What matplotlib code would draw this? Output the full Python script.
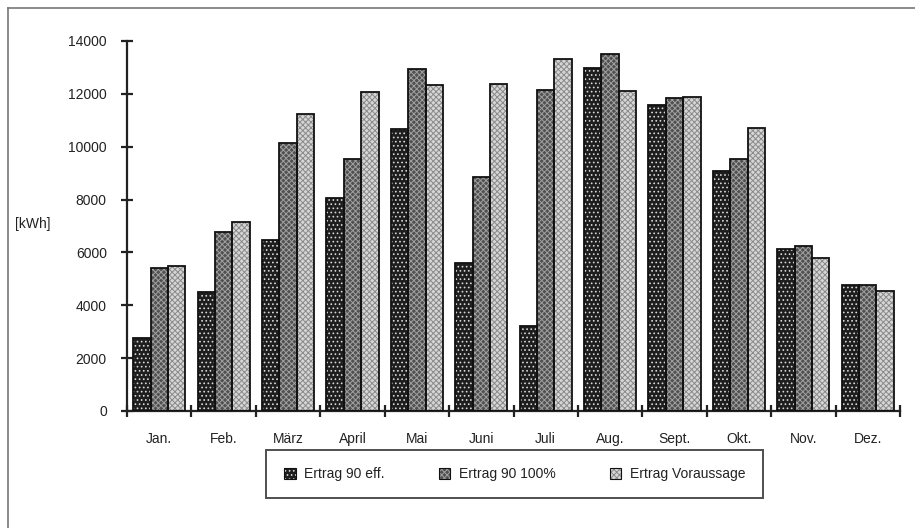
import numpy as np
import matplotlib
matplotlib.use("Agg")
import matplotlib.pyplot as plt
from matplotlib.patches import Patch
from matplotlib.legend_handler import HandlerTuple

# Monatswerte [kWh]
monate = ["Jan.", "Feb.", "März", "April", "Mai", "Juni", "Juli", "Aug.", "Sept.", "Okt.", "Nov.", "Dez."]
ertrag_eff = [2750, 4490, 6470, 8050, 10660, 5590, 3220, 12970, 11580, 9090, 6120, 4770]
ertrag_100 = [5420, 6760, 10130, 9530, 12930, 8870, 12150, 13510, 11840, 9530, 6260, 4770]
ertrag_vor = [5500, 7140, 11240, 12060, 12330, 12370, 13310, 12110, 11890, 10710, 5800, 4550]
serien = ["Ertrag 90 eff.", "Ertrag 90 100%", "Ertrag Voraussage"]

plt.rcParams['font.family'] = ['Liberation Sans', 'DejaVu Sans']
plt.rcParams['hatch.linewidth'] = 0.7

# Stil je Serie: Grundfarbe, Schraffur, Schraffurfarbe
stile = [
    ("#1e1e1e", "....", "#d8d8d8"),
    ("#505050", "xxxxxx", "#a0a0a0"),
    ("#d6d6d6", "xxxxxx", "#8a8a8a"),
]

fig = plt.figure(figsize=(9.15, 5.28), dpi=100)
ax = fig.add_axes([127 / 915, 117 / 528, 773 / 915, 370 / 528])

x = np.arange(len(monate))
w = 0.27
handles = []
for i, (werte, (fc, hatch, hc)) in enumerate(zip([ertrag_eff, ertrag_100, ertrag_vor], stile)):
    pos = x + (i - 1) * w
    ax.bar(pos, werte, w, color=fc, edgecolor=hc, hatch=hatch, linewidth=0, zorder=2)
    ax.bar(pos, werte, w, fill=False, edgecolor="#111111", linewidth=1.3, zorder=3)
    h1 = Patch(facecolor=fc, edgecolor=hc, hatch=hatch, linewidth=0)
    h2 = Patch(fill=False, edgecolor="#111111", linewidth=0.8)
    handles.append((h1, h2))

ax.set_xlim(-0.5, 11.5)
ax.set_ylim(0, 14000)
ax.set_yticks(np.arange(0, 14001, 2000))
ax.set_xticks(x)
ax.set_xticklabels(monate)
ax.set_xticks(np.arange(-0.5, 12, 1), minor=True)

for s in ["top", "right"]:
    ax.spines[s].set_visible(False)
for s in ["left", "bottom"]:
    ax.spines[s].set_linewidth(1.6)
    ax.spines[s].set_color("#222222")

ax.tick_params(axis="y", direction="inout", length=9, width=1.6, color="#222222",
               labelsize=10, pad=10, labelcolor="#222222")
ax.tick_params(axis="x", which="major", length=0, pad=15, labelsize=10, labelcolor="#222222")
ax.tick_params(axis="x", which="minor", direction="inout", length=9, width=1.6, color="#222222")

fig.text(15 / 915, 1 - 224 / 528, "[kWh]", fontsize=10, color="#222222", va="center", ha="left")

leg = fig.legend(handles, serien, handler_map={tuple: HandlerTuple(ndivide=1)},
                 ncol=3, loc="center", bbox_to_anchor=(514.5 / 915, 1 - 474 / 528),
                 fontsize=10, frameon=True, fancybox=False, handlelength=0.85,
                 handleheight=0.85, handletextpad=0.6, columnspacing=3.9,
                 borderpad=1.25, borderaxespad=0)
leg.get_frame().set_edgecolor("#222222")
leg.get_frame().set_linewidth(1.4)
for t in leg.get_texts():
    t.set_color("#222222")

# Rahmen oben und links
fig.add_artist(plt.Line2D([8 / 915, 8 / 915], [0, 1 - 8 / 528], transform=fig.transFigure,
                          color="#777777", linewidth=1.2))
fig.add_artist(plt.Line2D([8 / 915, 1], [1 - 8 / 528, 1 - 8 / 528], transform=fig.transFigure,
                          color="#777777", linewidth=1.2))

fig.savefig("out.png", dpi=100)
